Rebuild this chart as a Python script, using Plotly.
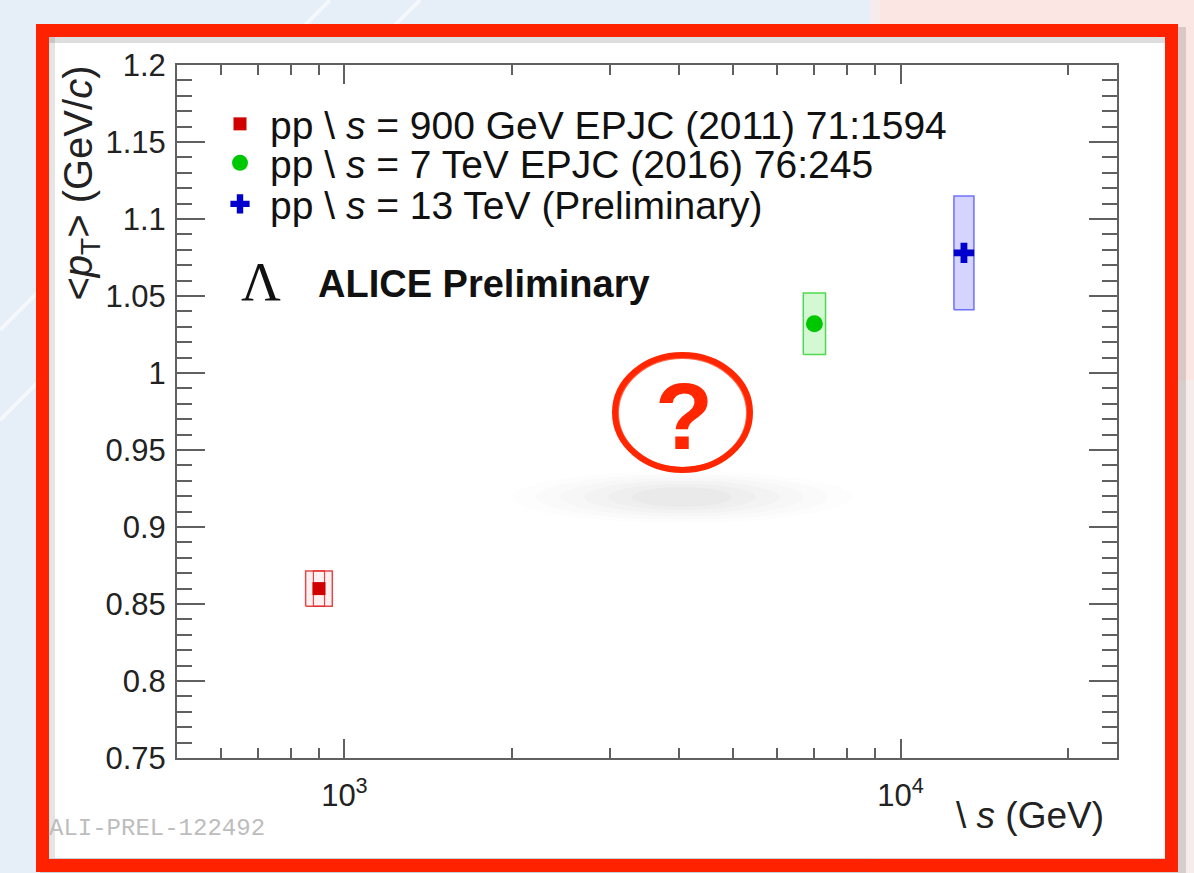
import math
import plotly.graph_objects as go

# ---------------------------------------------------------------- data
sqrt_s_gev = [900, 7000, 13000]
mean_pt = [0.860, 1.032, 1.078]
mean_pt_syst = [0.0115, 0.020, 0.037]
series_labels = [
    "pp \\ <i>s</i> = 900 GeV EPJC (2011) 71:1594",
    "pp \\ <i>s</i> = 7 TeV EPJC (2016) 76:245",
    "pp \\ <i>s</i> = 13 TeV (Preliminary)",
]
x_tick_vals = [1000, 10000]
x_tick_text = ["10<sup>3</sup>", "10<sup>4</sup>"]
x_minor_vals = [600, 700, 800, 900, 2000, 3000, 4000, 5000, 6000, 7000, 8000, 9000, 20000]
y_tick_vals = [0.75, 0.80, 0.85, 0.90, 0.95, 1.00, 1.05, 1.10, 1.15, 1.20]
y_tick_text = ["0.75", "0.8", "0.85", "0.9", "0.95", "1", "1.05", "1.1", "1.15", "1.2"]

# ---------------------------------------------------------------- page geometry
W, H = 1194, 873
L, R, T, B = 177, 1117, 65, 758


def px(x):
    return (x - L) / (R - L)


def py(y):
    return (B - y) / (B - T)


# ---------------------------------------------------------------- styles
marker_colors = ["#d00000", "#00c800", "#0000cc"]
box_fills = ["rgba(255,60,60,0.07)", "rgba(40,220,40,0.20)", "rgba(60,60,255,0.22)"]
box_lines = ["rgba(225,40,40,0.85)", "rgba(50,210,50,0.85)", "rgba(90,90,255,0.85)"]
symbols = ["square", "circle", "cross"]
marker_sizes = [13, 17, 17]
box_half_decades = [0.024, 0.020, 0.018]
legend_names = ["legend", "legend2", "legend3"]
legend_rows = [124, 163, 204]

SANS = "Liberation Sans, Arial, sans-serif"

fig = go.Figure()

# systematic-uncertainty boxes
for i, (x, y, s) in enumerate(zip(sqrt_s_gev, mean_pt, mean_pt_syst)):
    h = box_half_decades[i]
    xl, xr = x * 10 ** (-h), x * 10 ** h
    fig.add_trace(go.Scatter(
        x=[xl, xr, xr, xl, xl], y=[y - s, y - s, y + s, y + s, y - s],
        mode="lines", fill="toself", fillcolor=box_fills[i],
        line=dict(color=box_lines[i], width=1.5),
        hoverinfo="skip", showlegend=False,
    ))
    if i == 0:
        hi = 0.010
        xl2, xr2 = x * 10 ** (-hi), x * 10 ** hi
        fig.add_trace(go.Scatter(
            x=[xl2, xr2, xr2, xl2, xl2], y=[y - s, y - s, y + s, y + s, y - s],
            mode="lines", line=dict(color=box_lines[i], width=1.2),
            hoverinfo="skip", showlegend=False,
        ))

# central values
for i, (x, y) in enumerate(zip(sqrt_s_gev, mean_pt)):
    fig.add_trace(go.Scatter(
        x=[x], y=[y], mode="markers", name=series_labels[i],
        marker=dict(symbol=symbols[i], size=marker_sizes[i], color=marker_colors[i],
                    line=dict(width=0)),
        legend=legend_names[i],
    ))

# ---------------------------------------------------------------- decorations
shapes = []
# slide background pieces visible around the frame
shapes.append(dict(type="rect", xref="paper", yref="paper", layer="below",
                   x0=px(870), x1=px(1194), y0=py(873), y1=py(0),
                   fillcolor="#f6ecec", line=dict(width=0)))
shapes.append(dict(type="rect", xref="paper", yref="paper", layer="below",
                   x0=px(880), x1=px(1194), y0=py(380), y1=py(0),
                   fillcolor="#fbe6e4", line=dict(width=0)))
for off in (0, 90):
    shapes.append(dict(type="line", xref="paper", yref="paper", layer="below",
                       x0=px(0), y0=py(330 + off), x1=px(330 + off), y1=py(0),
                       line=dict(color="rgba(255,255,255,0.55)", width=4)))
# soft drop shadow of the panel
shapes.append(dict(type="rect", xref="paper", yref="paper", layer="below",
                   x0=px(40), x1=px(1186), y0=py(878), y1=py(27),
                   fillcolor="rgba(0,0,0,0.13)", line=dict(width=0)))
# white panel
shapes.append(dict(type="rect", xref="paper", yref="paper", layer="below",
                   x0=px(49), x1=px(1165), y0=py(858), y1=py(37),
                   fillcolor="white", line=dict(width=0)))
# inner shading along the top and left edges of the panel
shapes.append(dict(type="line", xref="paper", yref="paper", layer="below",
                   x0=px(49), x1=px(1165), y0=py(40), y1=py(40),
                   line=dict(color="rgba(0,0,0,0.13)", width=6)))
shapes.append(dict(type="line", xref="paper", yref="paper", layer="below",
                   x0=px(52), x1=px(52), y0=py(858), y1=py(37),
                   line=dict(color="rgba(0,0,0,0.10)", width=6)))
# blurred shadow under the question mark
for k, a in enumerate([0.008, 0.010, 0.012, 0.014, 0.016, 0.018]):
    rx, ry = 170 - 24 * k, 26 - 3.2 * k
    shapes.append(dict(type="circle", xref="paper", yref="paper", layer="below",
                       x0=px(682 - rx), x1=px(682 + rx), y0=py(497 + ry), y1=py(497 - ry),
                       fillcolor=f"rgba(0,0,0,{a})", line=dict(width=0)))
# hand-drawn ring
shapes.append(dict(type="circle", xref="paper", yref="paper", layer="above",
                   x0=px(615), x1=px(750), y0=py(470), y1=py(355),
                   line=dict(color="#ff2600", width=6)))
shapes.append(dict(type="circle", xref="paper", yref="paper", layer="above",
                   x0=px(617), x1=px(748), y0=py(469), y1=py(357),
                   line=dict(color="rgba(255,38,0,0.7)", width=4)))
# red frame
shapes.append(dict(type="rect", xref="paper", yref="paper", layer="above",
                   x0=px(42.5), x1=px(1171.5), y0=py(865.5), y1=py(30.5),
                   line=dict(color="#ff2200", width=13)))

annotations = [
    dict(text="&lt;<i>p</i><sub>T</sub>&gt; (GeV/<i>c</i>)", textangle=-90,
         x=px(80), y=py(64), xanchor="center", yanchor="top",
         font=dict(family=SANS, size=40, color="#222")),
    dict(text="\\ <i>s</i> (GeV)", x=px(1106), y=py(815), xanchor="right", yanchor="middle",
         font=dict(family=SANS, size=37, color="#222")),
    dict(text="Λ", x=px(261), y=py(281), xanchor="center", yanchor="middle",
         font=dict(family="Liberation Serif, DejaVu Serif, serif", size=55, color="#111")),
    dict(text="<b>ALICE Preliminary</b>", x=px(316), y=py(284), xanchor="left", yanchor="middle",
         font=dict(family=SANS, size=38, color="#111")),
    dict(text="ALI-PREL-122492", x=px(47), y=py(828), xanchor="left", yanchor="middle",
         font=dict(family="Liberation Mono, DejaVu Sans Mono, monospace", size=24, color="#bdbdbd")),
    dict(text="<b>?</b>", x=px(684), y=py(416), xanchor="center", yanchor="middle",
         font=dict(family=SANS, size=95, color="#ff2600")),
]
for a in annotations:
    a.update(xref="paper", yref="paper", showarrow=False)

legend_common = dict(bgcolor="rgba(0,0,0,0)", borderwidth=0, xanchor="left", yanchor="middle",
                     font=dict(family=SANS, size=39, color="#111"), itemwidth=50,
                     itemclick=False, itemdoubleclick=False)
legends = {}
for name, row in zip(legend_names, legend_rows):
    legends[name] = dict(legend_common, x=px(210), y=py(row))

axis_col = "#606060"
fig.update_layout(
    width=W, height=H,
    margin=dict(l=L, r=W - R, t=T, b=H - B),
    paper_bgcolor="#e6eff8", plot_bgcolor="rgba(0,0,0,0)",
    showlegend=True,
    shapes=shapes, annotations=annotations,
    **legends,
    xaxis=dict(
        type="log", range=[math.log10(500), math.log10(24500)],
        tickmode="array", tickvals=x_tick_vals, ticktext=x_tick_text,
        ticks="inside", ticklen=19, tickwidth=1.8, tickcolor=axis_col,
        minor=dict(tickmode="array", tickvals=x_minor_vals, ticks="inside",
                   ticklen=10, tickwidth=1.8, tickcolor=axis_col, showgrid=False),
        showline=True, linecolor=axis_col, linewidth=2, mirror="allticks",
        showgrid=False, zeroline=False, ticklabelstandoff=9,
        tickfont=dict(family=SANS, size=31, color="#222"),
    ),
    yaxis=dict(
        range=[0.75, 1.2],
        tickmode="array", tickvals=y_tick_vals, ticktext=y_tick_text,
        ticks="inside", ticklen=28, tickwidth=1.8, tickcolor=axis_col,
        minor=dict(dtick=0.01, ticks="inside", ticklen=15, tickwidth=1.8,
                   tickcolor=axis_col, showgrid=False),
        showline=True, linecolor=axis_col, linewidth=2, mirror="allticks",
        showgrid=False, zeroline=False, ticklabelstandoff=3,
        tickfont=dict(family=SANS, size=31, color="#222"),
    ),
)

fig.write_html("out.html")
